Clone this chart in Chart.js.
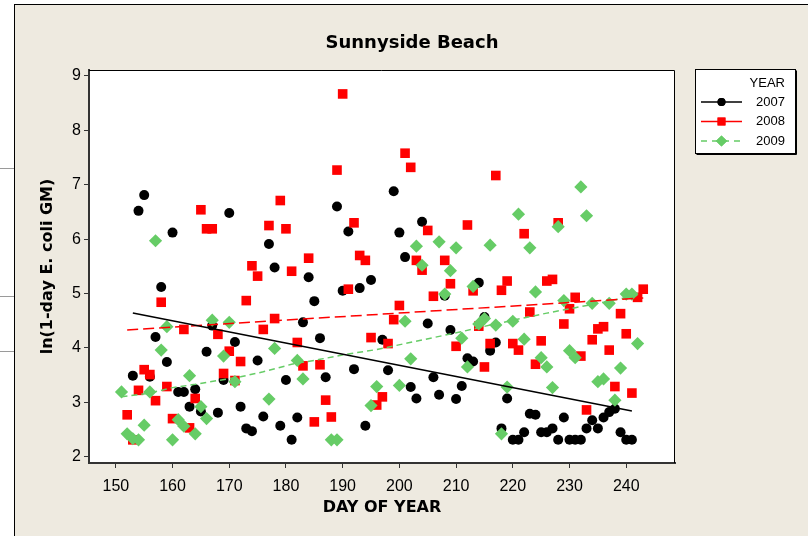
<!DOCTYPE html>
<html><head><meta charset="utf-8">
<script src="https://cdn.jsdelivr.net/npm/chart.js@4.4.1/dist/chart.umd.min.js"></script>
<style>
html,body{margin:0;padding:0;background:#fff;width:808px;height:536px;overflow:hidden}
#page{position:absolute;left:14px;top:4px;width:794px;height:532px;background:#EEEAE0;border-left:1px solid #000;border-top:1px solid #000;}
.rule{position:absolute;left:0;width:14px;height:1px;background:#9a9a9a}
#wrap{position:absolute;left:0;top:0;width:808px;height:536px}
</style></head><body>
<div class="rule" style="top:168px"></div>
<div class="rule" style="top:296px"></div>
<div class="rule" style="top:351px"></div>
<div id="page"></div>
<div id="wrap"><canvas id="c" width="808" height="536"></canvas></div>
<script>
const chartTitle = 'Sunnyside Beach';
const xTitle = 'DAY OF YEAR';
const yTitle = 'ln(1-day E. coli GM)';
const legendTitle = 'YEAR';
const seriesNames = ['2007', '2008', '2009'];
const xTicks = [150, 160, 170, 180, 190, 200, 210, 220, 230, 240];
const yTicks = [2, 3, 4, 5, 6, 7, 8, 9];

const days2007 = [153,154,155,156,157,158,159,160,161,162,163,164,165,166,167,168,169,170,171,172,173,174,175,176,177,178,179,180,181,182,183,184,185,186,187,189,190,191,192,193,194,195,197,198,199,200,201,202,203,204,205,206,207,208,209,210,211,212,213,214,215,216,217,218,219,220,221,222,223,224,225,226,227,228,229,230,231,232,233,234,235,236,237,238,239,240,241];
const vals2007 = [3.49,6.52,6.81,3.47,4.20,5.12,3.74,6.12,3.19,3.19,2.92,3.24,2.83,3.93,4.41,2.81,3.41,6.48,4.11,2.92,2.52,2.47,3.77,2.74,5.91,5.48,2.57,3.41,2.31,2.72,4.47,5.30,4.86,4.18,3.46,6.60,5.05,6.14,3.61,5.10,2.57,5.25,4.15,3.59,6.88,6.12,5.67,3.28,3.07,6.32,4.45,3.46,3.14,4.96,4.33,3.06,3.30,3.81,3.75,5.20,4.57,3.95,4.10,2.52,3.07,2.31,2.31,2.45,2.79,2.77,2.45,2.45,2.52,2.31,2.72,2.31,2.31,2.31,2.52,2.67,2.52,2.72,2.82,2.88,2.45,2.31,2.31];

const days2008 = [152,153,154,155,156,157,158,159,160,162,163,164,165,166,167,168,169,170,171,172,173,174,175,176,177,178,179,180,181,182,183,184,185,186,187,188,189,190,191,192,193,194,195,196,197,198,199,200,201,202,203,204,205,206,208,209,210,212,213,214,215,216,217,218,219,220,221,222,223,224,225,226,227,228,229,230,231,232,233,234,235,236,237,238,239,240,241,242,243];
const vals2008 = [2.77,2.31,3.22,3.60,3.51,3.03,4.84,3.29,2.70,4.34,2.53,3.07,6.54,6.19,6.19,4.25,3.53,3.94,3.40,3.75,4.87,5.51,5.32,4.34,6.25,4.54,6.71,6.19,5.41,4.10,3.67,5.65,2.64,3.69,3.04,2.73,7.27,8.67,5.08,6.30,5.70,5.61,4.19,2.95,3.10,4.08,4.52,4.78,7.58,7.32,5.61,5.43,6.16,4.95,5.61,5.18,4.03,6.26,5.05,4.40,3.65,4.08,7.17,5.06,5.23,4.08,3.96,6.10,4.66,3.70,4.13,5.23,5.26,6.30,4.44,4.72,4.93,3.85,2.86,4.15,4.35,4.39,3.96,3.29,4.63,4.26,3.17,4.93,5.08];

const days2009 = [151,152,153,154,155,156,157,158,159,160,161,162,163,164,165,166,167,169,170,171,177,178,182,183,188,189,195,196,200,201,202,203,204,207,208,209,210,211,212,213,214,215,216,217,218,219,220,221,222,223,224,225,226,227,228,229,230,231,232,233,234,235,236,237,238,239,240,241,242];
const vals2009 = [3.19,2.42,2.33,2.31,2.58,3.19,5.97,3.96,4.39,2.31,2.68,2.56,3.49,2.42,2.92,2.70,4.51,3.85,4.47,3.38,3.06,3.99,3.77,3.43,2.31,2.31,2.94,3.29,3.31,4.49,3.80,5.87,5.52,5.95,4.99,5.42,5.84,4.18,3.65,5.13,4.44,4.54,5.89,4.42,2.42,3.28,4.49,6.46,4.16,5.84,5.03,3.82,3.65,3.27,6.23,4.87,3.95,3.82,6.96,6.43,4.82,3.38,3.43,4.82,3.04,3.63,4.99,4.99,4.08];

// fitted lines
const fit2007Days = [153, 241];
const fit2007Vals = [4.64, 2.84];
const fit2008Days = [152, 243];
const fit2008Vals = [4.33, 4.92];
const fit2009Days = [151,156,160,164,168,172,176,181,186,191,196,201,206,211,216,221,226,231,236,242];
const fit2009Vals = [3.10,3.17,3.27,3.33,3.40,3.47,3.56,3.70,3.79,3.89,3.97,4.08,4.19,4.30,4.42,4.53,4.64,4.74,4.84,4.97];

const pts = (d, v) => d.map((x, i) => ({x: x, y: v[i]}));
const GREEN = '#66CC66', RED = '#FF0000', BLACK = '#000000';

const styles = [
  {color: BLACK, pointStyle: 'circle', r: 5, lr: 4, dash: []},
  {color: RED, pointStyle: 'rect', r: 6.8, lr: 5.6, dash: [11, 5]},
  {color: GREEN, pointStyle: 'rectRot', r: 6.6, lr: 5.6, dash: [6, 4]}
];

const framePlugin = {
  id: 'frame',
  beforeDraw(chart) {
    const {ctx, chartArea: a} = chart;
    ctx.save();
    ctx.fillStyle = '#fff';
    ctx.fillRect(a.left, a.top, a.right - a.left, a.bottom - a.top);
    ctx.restore();
  },
  afterDraw(chart) {
    const {ctx, chartArea: a} = chart;
    ctx.save();
    ctx.strokeStyle = '#000';
    ctx.lineWidth = 1;
    ctx.beginPath();
    ctx.moveTo(a.left, a.top + 0.5);
    ctx.lineTo(a.right - 0.5, a.top + 0.5);
    ctx.lineTo(a.right - 0.5, a.bottom);
    ctx.stroke();
    // title
    ctx.fillStyle = '#000';
    ctx.font = 'bold 18px "DejaVu Sans"';
    ctx.textAlign = 'center';
    ctx.textBaseline = 'middle';
    ctx.fillText(chartTitle, 412, 43.5);
    // legend
    const bx = 695.5, by = 69.5, bw = 100, bh = 84;
    ctx.fillStyle = '#fff';
    ctx.fillRect(bx, by, bw, bh);
    ctx.strokeStyle = '#000';
    ctx.lineWidth = 1;
    ctx.strokeRect(bx, by, bw, bh);
    ctx.beginPath();
    ctx.moveTo(bx + bw + 1, by + 1); ctx.lineTo(bx + bw + 1, by + bh + 1); ctx.lineTo(bx + 1, by + bh + 1);
    ctx.stroke();
    ctx.font = '13px "Liberation Sans"';
    ctx.textAlign = 'right';
    ctx.fillStyle = '#000';
    ctx.fillText(legendTitle, 785, 83.5);
    const rows = [102, 121.5, 141];
    seriesNames.forEach((name, i) => {
      const s = styles[i], y = rows[i];
      ctx.save();
      ctx.strokeStyle = s.color;
      ctx.lineWidth = 1.5;
      ctx.setLineDash(i === 2 ? [6, 5] : []);
      ctx.beginPath(); ctx.moveTo(701, y); ctx.lineTo(742, y); ctx.stroke();
      ctx.setLineDash([]);
      ctx.fillStyle = s.color;
      Chart.helpers.drawPoint(ctx, {pointStyle: s.pointStyle, radius: s.lr, borderWidth: 0, rotation: 0}, 721.5, y);
      ctx.fill();
      ctx.restore();
      ctx.fillStyle = '#000';
      ctx.fillText(name, 785, y);
    });
    ctx.restore();
  }
};

const pointSets = [[days2007, vals2007], [days2008, vals2008], [days2009, vals2009]];
const fitSets = [[fit2007Days, fit2007Vals], [fit2008Days, fit2008Vals], [fit2009Days, fit2009Vals]];
const datasets = [];
pointSets.forEach((p, i) => {
  const s = styles[i];
  datasets.push({
    label: seriesNames[i], data: pts(p[0], p[1]), showLine: false,
    pointStyle: s.pointStyle, pointRadius: s.r, pointBackgroundColor: s.color,
    pointBorderWidth: 0, pointBorderColor: s.color, order: 3 - i
  });
});
fitSets.forEach((p, i) => {
  const s = styles[i];
  datasets.push({
    label: seriesNames[i] + ' fit', data: pts(p[0], p[1]), showLine: true,
    pointRadius: 0, borderColor: s.color, borderWidth: 1.5, borderDash: s.dash,
    fill: false, tension: 0, order: 0
  });
});

new Chart(document.getElementById('c'), {
  type: 'scatter',
  data: {datasets},
  plugins: [framePlugin],
  options: {
    responsive: false, animation: false, devicePixelRatio: 1,
    layout: {padding: {left: 0, top: 70, right: 133, bottom: 0}},
    plugins: {legend: {display: false}, title: {display: false}, tooltip: {enabled: false}},
    scales: {
      x: {
        type: 'linear', min: 145.27, max: 248.6,
        afterBuildTicks: s => { s.ticks = xTicks.map(v => ({value: v})); },
        afterFit: s => { s.height = 73; },
        ticks: {color: '#000', font: {family: 'Liberation Sans', size: 16}, padding: 9, autoSkip: false, maxRotation: 0},
        grid: {display: true, drawOnChartArea: false, drawTicks: true, tickLength: 5, color: '#333'},
        border: {display: true, color: '#333', width: 2},
        title: {display: true, text: xTitle, color: '#000', font: {family: 'DejaVu Sans', size: 16, weight: 'bold'}, padding: {top: 0, bottom: 19}}
      },
      y: {
        type: 'linear', min: 1.884, max: 9.11,
        afterBuildTicks: s => { s.ticks = yTicks.map(v => ({value: v})); },
        afterFit: s => { s.width = 89; },
        ticks: {color: '#000', font: {family: 'Liberation Sans', size: 16}, padding: 3},
        grid: {display: true, drawOnChartArea: false, drawTicks: true, tickLength: 5, color: '#333'},
        border: {display: true, color: '#333', width: 2},
        title: {display: true, text: yTitle, color: '#000', font: {family: 'DejaVu Sans', size: 16, weight: 'bold'}, padding: {top: 38, bottom: 0}}
      }
    }
  }
});
</script>
</body></html>
